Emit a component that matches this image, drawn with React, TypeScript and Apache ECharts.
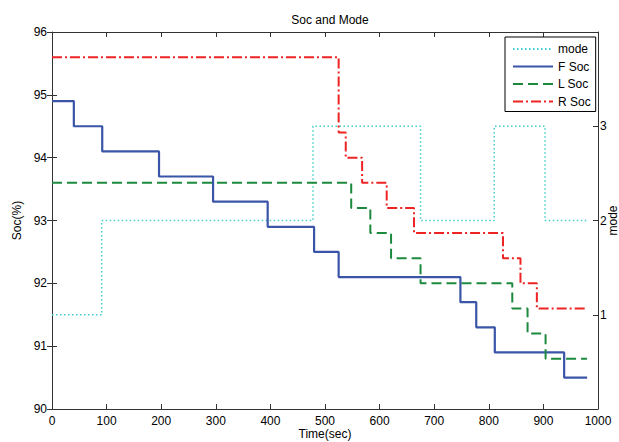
import React, { useEffect, useRef } from "react";
import * as echarts from "echarts";

// Step change times (sec) and the value held from each time onward
const fTime = [0, 40, 92, 196, 295, 395, 480, 525, 748, 777, 811, 938, 980];
const fSoc = [94.9, 94.5, 94.1, 93.7, 93.3, 92.9, 92.5, 92.1, 91.7, 91.3, 90.9, 90.5, 90.5];

const lTime = [0, 548, 583, 621, 675, 843, 871, 904, 980];
const lSoc = [93.6, 93.2, 92.8, 92.4, 92.0, 91.6, 91.2, 90.8, 90.8];

const rTime = [0, 525, 538, 568, 613, 663, 826, 858, 888, 980];
const rSoc = [95.6, 94.4, 94.0, 93.6, 93.2, 92.8, 92.4, 92.0, 91.6, 91.6];

const modeTime = [0, 91, 478, 675, 810, 903, 980];
const modeVal = [1, 2, 3, 2, 3, 2, 2];

const FONT = "Liberation Sans, Arial, sans-serif";
const AXIS_COLOR = "#333";

const pairs = (xs: number[], ys: number[]) => xs.map((x, i) => [x, ys[i]]);

export default function App() {
  const ref = useRef<HTMLDivElement>(null);

  useEffect(() => {
    document.body.style.margin = "0";
    if (!ref.current) return;
    const chart = echarts.init(ref.current, undefined, { renderer: "svg" });

    const tickInside = { show: true, inside: true, length: 5, lineStyle: { color: AXIS_COLOR } };
    const axisLine = { show: true, onZero: false, lineStyle: { color: AXIS_COLOR } };
    const label = { color: "#000", fontFamily: FONT, fontSize: 12 };

    chart.setOption({
      animation: false,
      backgroundColor: "#fff",
      title: {
        text: "Soc and Mode",
        left: 325,
        textAlign: "center",
        top: 9,
        textStyle: { fontFamily: FONT, fontSize: 12, fontWeight: "normal", color: "#000" },
      },
      grid: { left: 52, right: 21, top: 32, bottom: 33, outerBoundsMode: "none", containLabel: false },
      legend: {
        orient: "vertical",
        left: 505,
        top: 37,
        padding: [6, 5, 4, 7],
        itemWidth: 40,
        itemHeight: 12,
        itemGap: 5.5,
        borderColor: "#000",
        borderWidth: 1,
        backgroundColor: "#fff",
        itemStyle: { opacity: 0, borderWidth: 0 },
        textStyle: { fontFamily: FONT, fontSize: 12, color: "#000" },
        data: ["mode", "F Soc", "L Soc", "R Soc"],
      },
      xAxis: [
        {
          type: "value",
          min: 0,
          max: 1000,
          interval: 100,
          name: "Time(sec)",
          nameLocation: "middle",
          nameGap: 19,
          nameMoveOverlap: false,
          nameTextStyle: label,
          axisLine,
          axisTick: tickInside,
          axisLabel: { ...label, margin: 6, formatter: (v: number) => String(v) },
          splitLine: { show: false },
        },
        {
          type: "value",
          position: "top",
          min: 0,
          max: 1000,
          interval: 100,
          axisLine,
          axisTick: tickInside,
          axisLabel: { show: false },
          splitLine: { show: false },
        },
      ],
      yAxis: [
        {
          type: "value",
          min: 90,
          max: 96,
          interval: 1,
          name: "Soc(%)",
          nameLocation: "middle",
          nameGap: 29,
          nameMoveOverlap: false,
          nameTextStyle: label,
          axisLine,
          axisTick: tickInside,
          axisLabel: { ...label, margin: 5 },
          splitLine: { show: false },
        },
        {
          type: "value",
          position: "right",
          min: 0,
          max: 4,
          interval: 1,
          name: "mode",
          nameLocation: "middle",
          nameGap: 9,
          nameMoveOverlap: false,
          nameRotate: 90,
          nameTextStyle: { ...label, lineHeight: 11 },
          axisLine,
          axisTick: tickInside,
          axisLabel: {
            ...label,
            margin: 2,
            formatter: (v: number) => (v === 0 || v === 4 ? "" : String(v)),
          },
          splitLine: { show: false },
        },
        {
          type: "value",
          position: "right",
          min: 90,
          max: 96,
          interval: 1,
          axisLine: { show: false },
          axisTick: tickInside,
          axisLabel: { show: false },
          splitLine: { show: false },
        },
      ],
      series: [
        {
          name: "mode",
          type: "line",
          yAxisIndex: 1,
          step: "end",
          showSymbol: false,
          symbol: "none",
          data: pairs(modeTime, modeVal),
          lineStyle: { color: "#3fcfcf", width: 1.5, type: [1.5, 2.5] },
          itemStyle: { color: "#3fcfcf" },
          z: 1,
        },
        {
          name: "F Soc",
          type: "line",
          step: "end",
          showSymbol: false,
          symbol: "none",
          data: pairs(fTime, fSoc),
          lineStyle: { color: "#3a55a8", width: 2.2 },
          itemStyle: { color: "#3a55a8" },
          z: 2,
        },
        {
          name: "L Soc",
          type: "line",
          step: "end",
          showSymbol: false,
          symbol: "none",
          data: pairs(lTime, lSoc),
          lineStyle: { color: "#1c8a3e", width: 2, type: [10, 5] },
          itemStyle: { color: "#1c8a3e" },
          z: 3,
        },
        {
          name: "R Soc",
          type: "line",
          step: "end",
          showSymbol: false,
          symbol: "none",
          data: pairs(rTime, rSoc),
          lineStyle: { color: "#ee2424", width: 2, type: [10, 3, 2, 3] },
          itemStyle: { color: "#ee2424" },
          z: 4,
        },
      ],
    });

    return () => chart.dispose();
  }, []);

  return <div ref={ref} style={{ width: 619, height: 442 }} />;
}
